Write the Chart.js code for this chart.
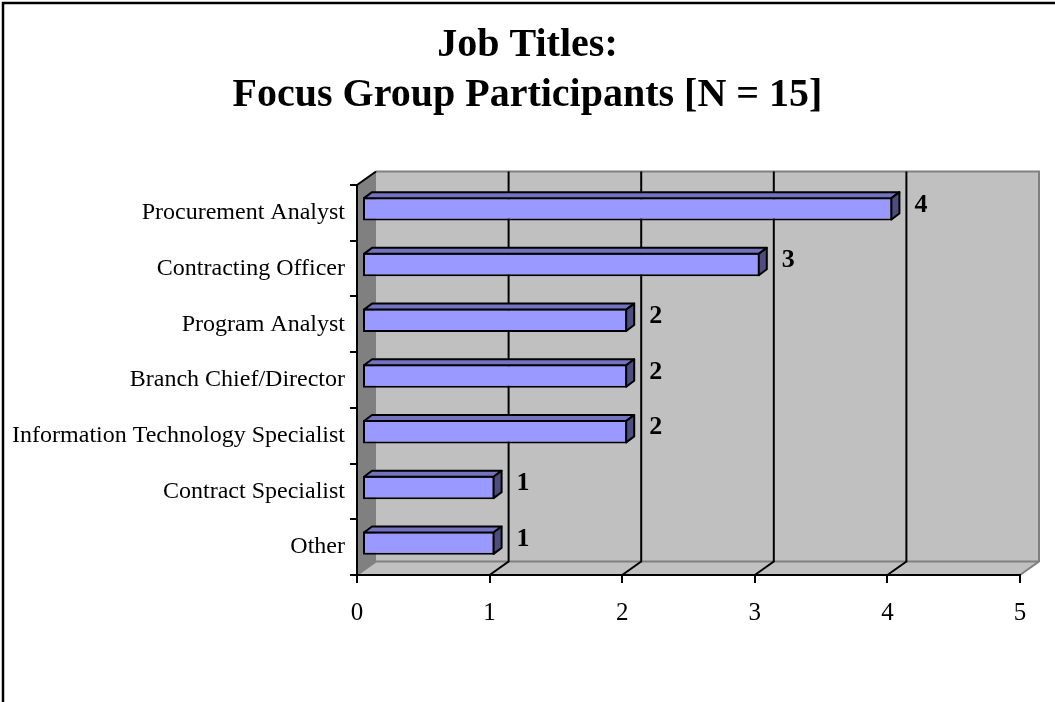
<!DOCTYPE html>
<html><head><meta charset="utf-8">
<script src="https://cdn.jsdelivr.net/npm/chart.js@4"></script>
<style>html,body{margin:0;padding:0;background:#fff;overflow:hidden}#wrap{width:1055px;height:702px;position:relative}</style>
</head><body><div id="wrap"><canvas id="c"></canvas></div>
<script>
const categories = ["Procurement Analyst","Contracting Officer","Program Analyst","Branch Chief/Director","Information Technology Specialist","Contract Specialist","Other"];
const participants = [4,3,2,2,2,1,1];
const xTicks = [0,1,2,3,4,5];
const titleLines = ["Job Titles:","Focus Group Participants [N = 15]"];

const FONT = "'Liberation Serif','Times New Roman',serif";
const WALL = {dx: 19, dy: -13.5};
const BAR = {dx: 8, dy: -6, shiftX: 5, shiftY: -4, gap: 14, labelDy: -4};
const COL = {wall:'#C0C0C0', side:'#808080', edge:'#808080', front:'#9999FF', top:'#7373BF', right:'#4D4D80'};

const threeD = {
  id: 'threeD',
  afterLayout(chart) {
    const tb = chart.titleBlock;
    if (tb) { tb.left = 0; tb.right = chart.width; tb.width = chart.width; }
  },
  beforeDraw(chart) {
    const {ctx, chartArea: a, scales: {x}} = chart;
    const L=a.left, R=a.right, T=a.top, B=a.bottom, dx=WALL.dx, dy=WALL.dy;
    ctx.save();
    ctx.fillStyle='#fff'; ctx.fillRect(0,0,chart.width,chart.height);
    ctx.strokeStyle='#000'; ctx.lineWidth=2.5;
    ctx.beginPath(); ctx.moveTo(3,chart.height); ctx.lineTo(3,3); ctx.lineTo(chart.width,3); ctx.stroke();
    // back wall + floor
    ctx.fillStyle=COL.wall;
    ctx.fillRect(L+dx, T+dy, R-L, B-T);
    ctx.beginPath(); ctx.moveTo(L,B); ctx.lineTo(L+dx,B+dy); ctx.lineTo(R+dx,B+dy); ctx.lineTo(R,B); ctx.closePath(); ctx.fill();
    // side wall
    ctx.fillStyle=COL.side;
    ctx.beginPath(); ctx.moveTo(L,T); ctx.lineTo(L+dx,T+dy); ctx.lineTo(L+dx,B+dy); ctx.lineTo(L,B); ctx.closePath(); ctx.fill();
    // grey edges
    ctx.strokeStyle=COL.edge; ctx.lineWidth=2;
    ctx.beginPath(); ctx.moveTo(L+dx,T+dy); ctx.lineTo(R+dx,T+dy); ctx.lineTo(R+dx,B+dy); ctx.lineTo(R,B); ctx.stroke();
    ctx.beginPath(); ctx.moveTo(L,B); ctx.lineTo(L+dx,B+dy); ctx.lineTo(R+dx,B+dy); ctx.stroke();
    // gridlines on back wall and floor
    ctx.strokeStyle='#000'; ctx.lineWidth=2;
    xTicks.forEach((v,i) => {
      if (i===0 || i===xTicks.length-1) return;
      const px = x.getPixelForValue(v);
      ctx.beginPath(); ctx.moveTo(px+dx,T+dy); ctx.lineTo(px+dx,B+dy); ctx.lineTo(px,B); ctx.stroke();
    });
    ctx.beginPath(); ctx.moveTo(L,T); ctx.lineTo(L+dx,T+dy); ctx.stroke();
    ctx.restore();
  },
  beforeDatasetsDraw(chart) {
    chart.ctx.save();
    chart.ctx.translate(BAR.shiftX, BAR.shiftY);
  },
  afterDatasetsDraw(chart) {
    const ctx = chart.ctx;
    const meta = chart.getDatasetMeta(0);
    ctx.lineWidth = 2; ctx.lineJoin = 'round'; ctx.strokeStyle = '#000';
    meta.data.forEach((el, i) => {
      const {x, y, base, height} = el.getProps(['x','y','base','height'], true);
      const t = y - height/2 + 1, b = y + height/2 - 1, xe = x - 1, xb = base + 1;
      // top face
      ctx.fillStyle = COL.top;
      ctx.beginPath(); ctx.moveTo(xb,t); ctx.lineTo(xb+BAR.dx,t+BAR.dy); ctx.lineTo(xe+BAR.dx,t+BAR.dy); ctx.lineTo(xe,t); ctx.closePath(); ctx.fill(); ctx.stroke();
      // right face
      ctx.fillStyle = COL.right;
      ctx.beginPath(); ctx.moveTo(xe,t); ctx.lineTo(xe+BAR.dx,t+BAR.dy); ctx.lineTo(xe+BAR.dx,b+BAR.dy); ctx.lineTo(xe,b); ctx.closePath(); ctx.fill(); ctx.stroke();
      // value label
      ctx.fillStyle = '#000';
      ctx.font = "bold 26px " + FONT;
      ctx.textAlign = 'left'; ctx.textBaseline = 'middle';
      ctx.fillText(String(participants[i]), x + BAR.dx + BAR.gap, y + BAR.labelDy);
    });
    ctx.restore();
  }
};

new Chart(document.getElementById('c'), {
  type: 'bar',
  data: {
    labels: categories,
    datasets: [{
      data: participants,
      backgroundColor: COL.front,
      borderColor: '#000',
      borderWidth: 2,
      borderSkipped: false,
      barPercentage: 0.42,
      categoryPercentage: 1,
      clip: false
    }]
  },
  options: {
    indexAxis: 'y',
    responsive: true,
    maintainAspectRatio: false,
    animation: false,
    layout: {padding: {left: 0, right: 35, top: 0, bottom: 0}},
    plugins: {
      legend: {display: false},
      tooltip: {enabled: false},
      title: {
        display: true,
        text: titleLines,
        color: '#000',
        font: {family: FONT, size: 40, weight: 'bold', lineHeight: 1.25},
        padding: {top: 21, bottom: 64}
      }
    },
    scales: {
      x: {
        type: 'linear', min: 0, max: 5,
        afterBuildTicks: s => { s.ticks = xTicks.map(v => ({value: v})); },
        afterFit: s => { s.height = 127; },
        grid: {drawOnChartArea: false, drawTicks: true, tickLength: 8, color: '#000', lineWidth: 2},
        border: {display: true, color: '#000', width: 2},
        ticks: {color: '#000', font: {family: FONT, size: 25}, padding: 15, maxRotation: 0}
      },
      y: {
        afterFit: s => { s.width = 357; },
        grid: {drawOnChartArea: false, drawTicks: true, tickLength: 7, color: '#000', lineWidth: 2},
        border: {display: true, color: '#000', width: 2},
        ticks: {color: '#000', font: {family: FONT, size: 24}, padding: 5, autoSkip: false}
      }
    }
  },
  plugins: [threeD]
});
</script>
</body></html>
